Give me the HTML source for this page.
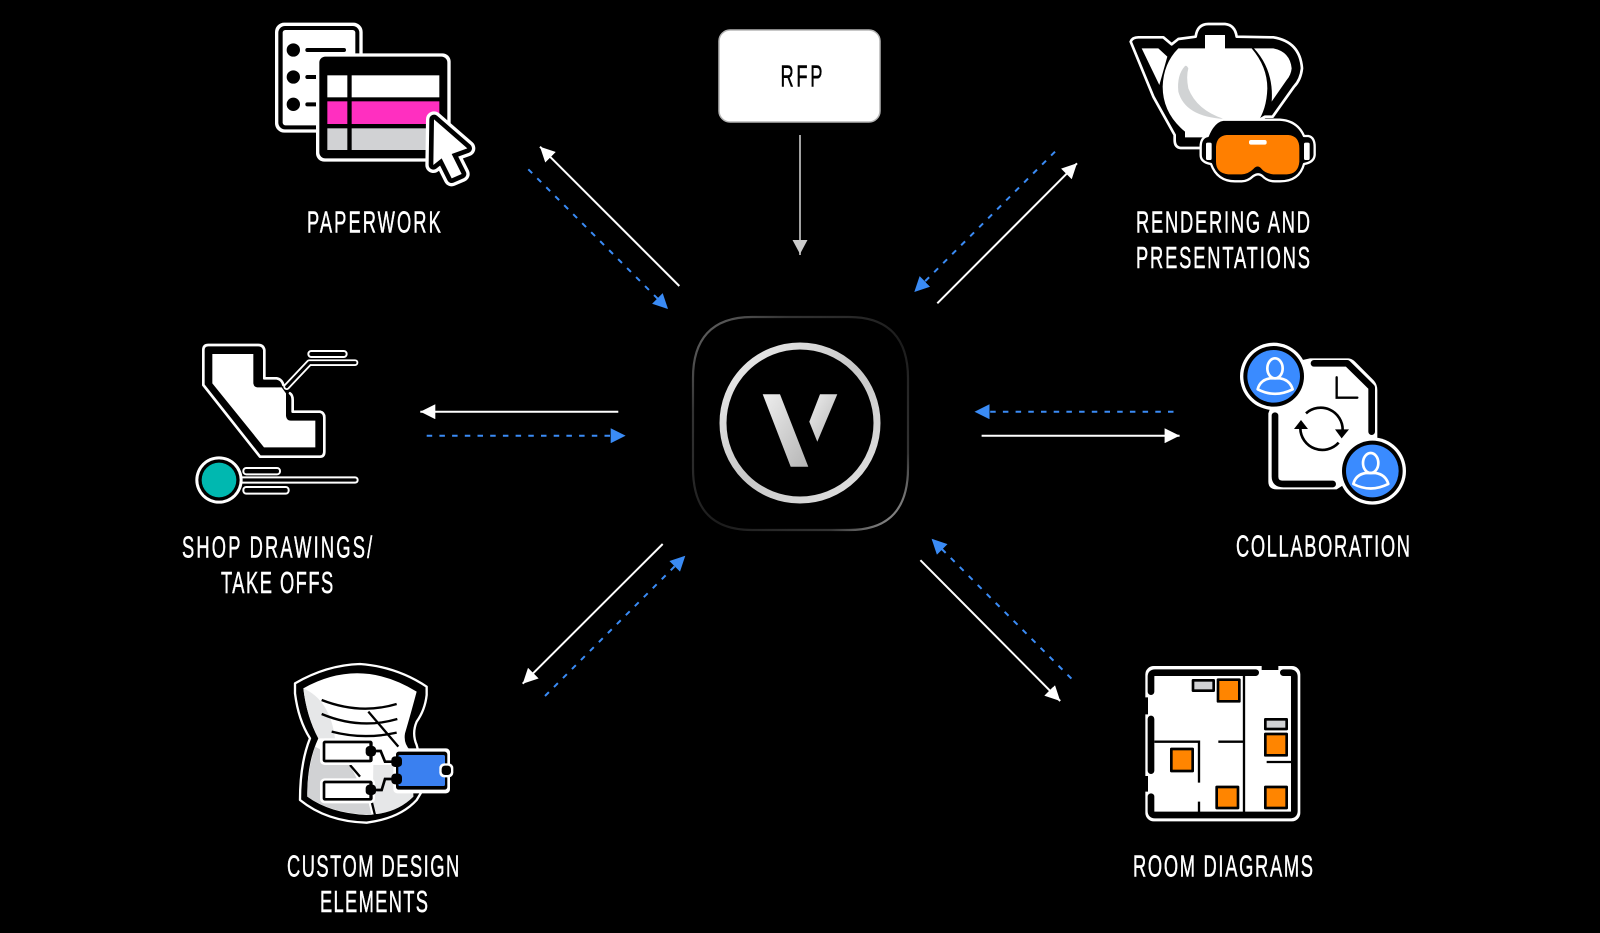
<!DOCTYPE html>
<html lang="en">
<head>
<meta charset="utf-8">
<title>Diagram</title>
<style>
html,body{margin:0;padding:0;background:#000;width:1600px;height:933px;overflow:hidden}
svg{display:block}
text{font-family:"Liberation Sans",Arial,sans-serif;font-size:30.5px;fill:#fff;stroke:#fff;stroke-width:.5px}
</style>
</head>
<body>
<svg width="1600" height="933" viewBox="0 0 1600 933" xmlns="http://www.w3.org/2000/svg">
<defs>
<marker id="w" viewBox="0 0 15 15" refX="15" refY="7.5" markerWidth="15" markerHeight="15" markerUnits="userSpaceOnUse" orient="auto"><path d="M0 0L15 7.5L0 15Z" fill="#fff"/></marker>
<marker id="b" viewBox="0 0 15 15" refX="15" refY="7.5" markerWidth="15" markerHeight="15" markerUnits="userSpaceOnUse" orient="auto"><path d="M0 0L15 7.5L0 15Z" fill="#3a8bf5"/></marker>
<marker id="g" viewBox="0 0 15 15" refX="15" refY="7.5" markerWidth="15" markerHeight="15" markerUnits="userSpaceOnUse" orient="auto"><path d="M0 0L14 7.5L0 15Z" fill="#ccc"/></marker>
<linearGradient id="lg" x1="0" y1="0" x2="1" y2="1"><stop offset="0" stop-color="#6a6a6a"/><stop offset=".22" stop-color="#333"/><stop offset=".55" stop-color="#1c1c1c"/><stop offset=".82" stop-color="#333"/><stop offset="1" stop-color="#b0b0b0"/></linearGradient>
<linearGradient id="rg" x1="0" y1="0" x2="1" y2="1"><stop offset="0" stop-color="#eee"/><stop offset=".5" stop-color="#c8c8c8"/><stop offset="1" stop-color="#e2e2e2"/></linearGradient>
<linearGradient id="vg" x1="0" y1="0" x2="1" y2="1"><stop offset="0" stop-color="#eee"/><stop offset="1" stop-color="#b5b5b5"/></linearGradient>
</defs>
<rect width="1600" height="933" fill="#000"/>

<!-- connectors -->
<g fill="none" stroke-width="2">
<line x1="800" y1="135" x2="800" y2="255" stroke="#ccc" stroke-width="1.6" marker-end="url(#g)"/>
<g stroke="#fff">
<line x1="679.3" y1="286" x2="540" y2="146.7" marker-end="url(#w)"/>
<line x1="937.3" y1="303.3" x2="1077" y2="163.3" marker-end="url(#w)"/>
<line x1="618.3" y1="411.7" x2="420.3" y2="411.7" marker-end="url(#w)"/>
<line x1="981.6" y1="435.7" x2="1179.6" y2="435.7" marker-end="url(#w)"/>
<line x1="662.7" y1="544" x2="522.7" y2="683.7" marker-end="url(#w)"/>
<line x1="920.4" y1="560.2" x2="1060.2" y2="701" marker-end="url(#w)"/>
</g>
<g stroke="#3a8bf5" stroke-dasharray="5.5 7.2">
<line x1="528.3" y1="169.3" x2="668" y2="309" marker-end="url(#b)"/>
<line x1="1055" y1="151.7" x2="914.3" y2="292" marker-end="url(#b)"/>
<line x1="426.7" y1="435.7" x2="625.7" y2="435.7" marker-end="url(#b)"/>
<line x1="1173.5" y1="411.7" x2="974.5" y2="411.7" marker-end="url(#b)"/>
<line x1="545" y1="696" x2="685.3" y2="555.7" marker-end="url(#b)"/>
<line x1="1071.4" y1="678.6" x2="931.6" y2="538.8" marker-end="url(#b)"/>
</g>
</g>

<!-- RFP -->
<rect x="719" y="30" width="161" height="92" rx="11" fill="#fff" stroke="#b5b5b5" stroke-width="1.5"/>
<text transform="translate(780.5,86.5) scale(.6,1)" textLength="70" style="fill:#000;stroke:#000">RFP</text>

<!-- central logo -->
<path d="M752 317H849C890 317 908 340 908 378V468C908 508 890 530 849 530H752C711 530 693 508 693 468V378C693 340 711 317 752 317Z" fill="#000" stroke="url(#lg)" stroke-width="2.2"/>
<circle cx="800" cy="423" r="77" fill="none" stroke="url(#rg)" stroke-width="7"/>
<path d="M762.7 394.3H780L808.3 466.7H790.7Z" fill="url(#vg)"/>
<path d="M820 394.3H837.3L817.3 441.7L809.3 421.7Z" fill="url(#vg)"/>

<!-- Paperwork icon -->
<g transform="translate(260,0) scale(.33333)">
<rect x="45" y="68" width="263" height="330" rx="28" fill="#fff"/>
<rect x="55" y="78" width="243" height="310" rx="20" fill="#000"/>
<rect x="68" y="90" width="218" height="286" rx="8" fill="#fff"/>
<circle cx="100" cy="150" r="20"/><circle cx="100" cy="231" r="20"/><circle cx="100" cy="313" r="20"/>
<path d="M142 150H252M142 231H170M142 313H170" stroke="#000" stroke-width="12" stroke-linecap="round" fill="none"/>
<rect x="168" y="160" width="404" height="325" rx="25" fill="#fff"/>
<rect x="178" y="170" width="384" height="305" rx="18" fill="#000"/>
<rect x="202" y="226" width="60" height="66" fill="#fff"/><rect x="275" y="226" width="263" height="66" fill="#fff"/>
<rect x="202" y="304" width="60" height="68" fill="#ff2fc0"/><rect x="275" y="304" width="263" height="68" fill="#ff2fc0"/>
<rect x="202" y="385" width="60" height="65" fill="#d1d2d4"/><rect x="275" y="385" width="225" height="65" fill="#d1d2d4"/>
<path d="M522 358L622 445L575 462L605 522L575 535L545 475L520 495Z" fill="#fff" stroke="#fff" stroke-width="48" stroke-linejoin="round"/>
<path d="M522 358L622 445L575 462L605 522L575 535L545 475L520 495Z" fill="#000" stroke="#000" stroke-width="28" stroke-linejoin="round"/>
<path d="M522 358L622 445L575 462L605 522L575 535L545 475L520 495Z" fill="#fff"/>
</g>
<text transform="translate(307,232.5) scale(.6,1)" textLength="223">PAPERWORK</text>

<!-- Rendering icon -->
<g transform="translate(1110,0) scale(.33333)">
<path d="M62 125Q67 112 85 112H160L185 133L205 117L257 110Q262 72 295 72H345Q375 75 380 110L490 112Q570 125 576 205Q572 240 552 260L488 350H465L300 444H212Q194 442 194 420V405L130 290Z" fill="#000" stroke="#fff" stroke-width="8" stroke-linejoin="round"/>
<path d="M95 145H145L172 170L148 255Z" fill="#fff"/>
<path d="M432 145H490Q540 155 545 205Q543 225 530 240L485 305Q492 210 432 145Z" fill="#fff"/>
<path d="M205 145H285V105H345V145H425Q472 200 472 265Q470 330 440 370L290 412H225V395Q158 340 158 260Q160 190 205 145Z" fill="#fff"/>
<path d="M225 198Q200 225 205 275Q225 350 342 357Q260 330 235 265Q228 230 235 205Q230 195 225 198Z" fill="#d1d3d4"/>
<path d="M340 359H510Q562 362 582 408H595Q614 412 614 440V465Q612 487 582 492Q568 544 510 544H495Q472 544 457 528Q445 518 430 528Q413 544 395 544H375Q322 544 303 492Q272 487 272 465V440Q272 412 293 408Q312 362 340 359Z" fill="#000" stroke="#fff" stroke-width="7" stroke-linejoin="round"/>
<path d="M350 405H535Q568 408 568 445V485Q565 522 530 523H490Q465 520 455 507Q443 492 430 507Q415 522 395 523H355Q318 520 318 485V440Q320 408 350 405Z" fill="#ff7f00"/>
<rect x="417" y="420" width="53" height="14" rx="6" fill="#fff"/>
<rect x="288" y="428" width="17" height="52" rx="5" fill="#fff"/>
<rect x="582" y="428" width="17" height="52" rx="5" fill="#fff"/>
</g>
<text transform="translate(1136,232.5) scale(.6,1)" textLength="290">RENDERING AND</text>
<text transform="translate(1136,268) scale(.6,1)" textLength="290">PRESENTATIONS</text>

<!-- Shop drawings icon -->
<g transform="translate(170,330) scale(.33333)">
<path d="M340 165Q336 148 320 145H283V60Q280 45 265 45H115Q100 45 100 60V165L270 380H450Q463 380 463 365V262Q463 248 450 245H368V210Q368 195 360 190" fill="#000" stroke="#fff" stroke-width="8" stroke-linejoin="round" stroke-linecap="round"/>
<path d="M127 72H250V160Q252 172 262 172H335L348 190V258Q350 272 362 272H436V352H282L127 160Z" fill="#fff"/>
<path d="M350 170L418 98H555" fill="none" stroke="#fff" stroke-width="20" stroke-linecap="round" stroke-linejoin="round"/>
<path d="M350 170L418 98H555" fill="none" stroke="#000" stroke-width="9" stroke-linecap="round" stroke-linejoin="round"/>
<rect x="415" y="63" width="115" height="18" rx="9" fill="#000" stroke="#fff" stroke-width="6"/>
<path d="M200 450H555" fill="none" stroke="#fff" stroke-width="22" stroke-linecap="round"/>
<path d="M200 450H555" fill="none" stroke="#000" stroke-width="10" stroke-linecap="round"/>
<rect x="220" y="414" width="110" height="19" rx="9" fill="#000" stroke="#fff" stroke-width="6"/>
<rect x="220" y="471" width="136" height="20" rx="9" fill="#000" stroke="#fff" stroke-width="6"/>
<circle cx="147" cy="450" r="71" fill="#fff"/>
<circle cx="147" cy="450" r="62" fill="#000"/>
<circle cx="147" cy="450" r="52" fill="#00b8b0"/>
</g>
<text transform="translate(182,557.5) scale(.6,1)" textLength="317">SHOP DRAWINGS/</text>
<text transform="translate(221,593) scale(.6,1)" textLength="187">TAKE OFFS</text>

<!-- Collaboration icon -->
<g transform="translate(1220,330) scale(.33333)">
<path d="M270 85H385Q395 85 405 95L460 150Q472 162 472 180V400L350 478H170Q145 478 145 455V250L200 100Z" fill="#fff"/>
<path d="M282 100H382L455 172V305" fill="none" stroke="#000" stroke-width="20" stroke-linecap="round" stroke-linejoin="round"/>
<path d="M165 257V440Q165 462 190 462H338" fill="none" stroke="#000" stroke-width="20" stroke-linecap="round" stroke-linejoin="round"/>
<path d="M350 142V203H412" fill="none" stroke="#000" stroke-width="7" stroke-linecap="round"/>
<path d="M258 250A66 66 0 0 1 368 300M356 338A66 66 0 0 1 241 295" fill="none" stroke="#000" stroke-width="8"/>
<path d="M222 297H264L243 270Z"/><path d="M345 298H387L365 325Z"/>
<circle cx="161" cy="139" r="101" fill="#fff"/>
<circle cx="161" cy="139" r="91" fill="#000"/>
<circle cx="161" cy="139" r="79" fill="#3a8bff"/>
<ellipse cx="165" cy="115" rx="23" ry="30" fill="none" stroke="#fff" stroke-width="8"/>
<path d="M113 178Q120 150 150 145H180Q210 150 218 178Q165 205 113 178Z" fill="none" stroke="#fff" stroke-width="8" stroke-linejoin="round"/>
<g transform="translate(296,284)">
<circle cx="161" cy="139" r="101" fill="#fff"/>
<circle cx="161" cy="139" r="91" fill="#000"/>
<circle cx="161" cy="139" r="79" fill="#3a8bff"/>
<ellipse cx="156" cy="115" rx="23" ry="30" fill="none" stroke="#fff" stroke-width="8"/>
<path d="M104 178Q111 150 141 145H171Q201 150 209 178Q156 205 104 178Z" fill="none" stroke="#fff" stroke-width="8" stroke-linejoin="round"/>
</g>
</g>
<text transform="translate(1236,556.5) scale(.6,1)" textLength="290">COLLABORATION</text>

<!-- Custom design icon -->
<g transform="translate(270,650) scale(.33333)">
<path d="M75 100Q170 45 270 42Q380 50 470 110V135Q465 180 440 215Q425 250 440 285L470 400L440 450Q390 505 290 518Q170 515 90 450Q90 340 120 265Q85 210 75 130Z" fill="#000" stroke="#fff" stroke-width="7" stroke-linejoin="round"/>
<path d="M100 115Q270 20 440 125Q420 200 405 250Q400 280 420 300L430 440Q380 490 290 495Q180 490 112 440Q110 340 145 265Q110 200 100 115Z" fill="#fff"/>
<path d="M100 115Q180 150 195 265L145 265Q110 200 100 115Z" fill="#e6e7e8"/>
<path d="M135 290Q110 370 112 440Q180 490 305 495L295 455L240 345Z" fill="#d1d2d4"/>
<path d="M310 345L395 345L425 300L430 440Q385 485 320 492L308 460Z" fill="#e6e7e8"/>
<path d="M155 150Q270 195 380 162M155 192Q270 240 382 207M185 245Q280 270 380 248M295 185L385 290M240 345L270 380M305 455L315 495" fill="none" stroke="#000" stroke-width="7"/>
<rect x="150" y="265" width="165" height="80" rx="14" fill="#fff"/>
<rect x="158" y="272" width="150" height="65" rx="7" fill="#000"/>
<rect x="166" y="280" width="132" height="49" fill="#fff"/>
<rect x="150" y="385" width="165" height="75" rx="14" fill="#fff"/>
<rect x="158" y="392" width="150" height="60" rx="7" fill="#000"/>
<rect x="166" y="400" width="132" height="44" fill="#fff"/>
<path d="M303 303H332L345 335H380M303 420H335L345 387H380" fill="none" stroke="#000" stroke-width="8"/>
<rect x="370" y="295" width="170" height="135" rx="12" fill="#fff"/>
<rect x="378" y="305" width="154" height="114" rx="8" fill="#000"/>
<rect x="385" y="315" width="140" height="93" rx="5" fill="#3a80f0"/>
<rect x="287" y="288" width="31" height="31" rx="11"/><rect x="287" y="404" width="31" height="31" rx="11"/>
<rect x="364" y="319" width="32" height="32" rx="11"/><rect x="364" y="371" width="32" height="32" rx="11"/>
<rect x="508" y="340" width="42" height="42" rx="14" fill="#fff"/>
<rect x="515" y="347" width="28" height="28" rx="10"/>
</g>
<text transform="translate(287,876.5) scale(.6,1)" textLength="287">CUSTOM DESIGN</text>
<text transform="translate(320,912) scale(.6,1)" textLength="180">ELEMENTS</text>

<!-- Room diagrams icon -->
<g transform="translate(1120,650) scale(.33333)">
<rect x="76" y="48" width="465" height="466" rx="25" fill="#fff"/>
<path d="M70 142H84V193H70ZM70 378H84V425H70ZM425 42H475V60H425Z" fill="#000"/>
<path d="M93 125V80Q93 68 105 68H407M490 68H510Q523 68 523 80V483Q523 495 510 495H105Q93 495 93 483V440M93 207V362" fill="none" stroke="#000" stroke-width="20" stroke-linecap="round" stroke-linejoin="round"/>
<path d="M372 78V487M103 275H237V398M237 455V487M295 275H372M440 336H515" fill="none" stroke="#000" stroke-width="7" stroke-linejoin="miter"/>
<g fill="#000">
<rect x="290" y="85" width="72" height="73" rx="4"/><rect x="150" y="293" width="72" height="74" rx="4"/><rect x="286" y="407" width="72" height="71" rx="4"/><rect x="432" y="407" width="72" height="71" rx="4"/><rect x="432" y="248" width="72" height="72" rx="4"/>
<rect x="215" y="87" width="70" height="39" rx="4"/><rect x="432" y="204" width="72" height="37" rx="4"/>
</g>
<g fill="#ff8500">
<rect x="298" y="93" width="56" height="57"/><rect x="158" y="301" width="56" height="58"/><rect x="294" y="415" width="56" height="55"/><rect x="440" y="415" width="56" height="55"/><rect x="440" y="256" width="56" height="56"/>
</g>
<g fill="#d1d2d4">
<rect x="223" y="95" width="54" height="23"/><rect x="440" y="212" width="56" height="21"/>
</g>
</g>
<text transform="translate(1133,876.5) scale(.6,1)" textLength="300">ROOM DIAGRAMS</text>
</svg>
</body>
</html>
